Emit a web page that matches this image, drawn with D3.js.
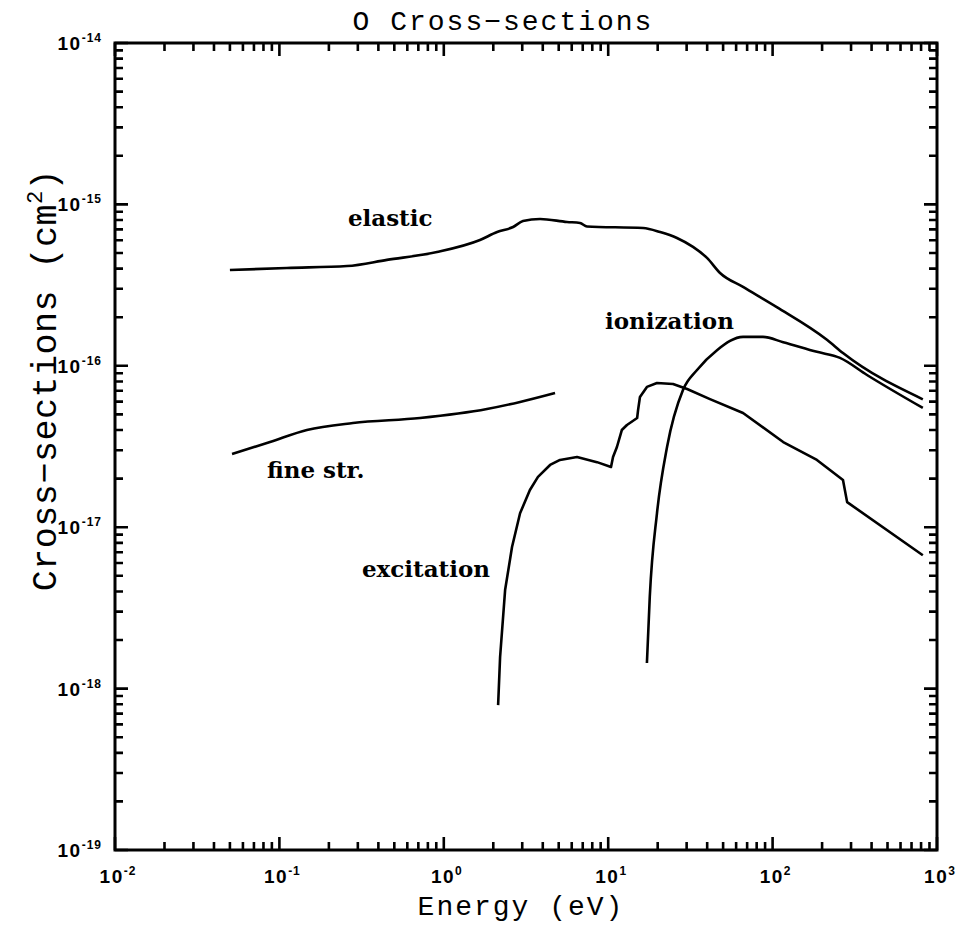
<!DOCTYPE html>
<html>
<head>
<meta charset="utf-8">
<script src="https://cdn.jsdelivr.net/npm/d3@7"></script>
<style>
  body { margin: 0; background: #fff; }
  .lbl { font-family: "DejaVu Serif", serif; font-weight: bold; font-size: 23px; }
  .mono { font-family: "Liberation Mono", monospace; font-size: 28px; letter-spacing: 2px; }
  .ymono { font-family: "Liberation Mono", monospace; font-size: 35px; letter-spacing: 0.5px; }
  .tick-lbl { font-family: "Liberation Sans", sans-serif; font-weight: bold; font-size: 19px; letter-spacing: 1.5px; }
</style>
</head>
<body>
<div id="chart"></div>
<script>
// values: energy (eV) and cross-section (cm^2)
const elasticE = [0.050, 0.111, 0.258, 0.451, 0.909, 1.66, 2.11, 2.64, 3.03, 3.85, 5.62, 6.74, 7.43, 16.3, 20.7, 26.2, 32.8, 39.9, 47.9, 66.1, 106, 214, 268, 820];
const elasticS = [3.92e-16, 4.04e-16, 4.15e-16, 4.53e-16, 5.07e-16, 6.02e-16, 6.74e-16, 7.24e-16, 7.88e-16, 8.12e-16, 7.78e-16, 7.67e-16, 7.30e-16, 7.14e-16, 6.74e-16, 6.19e-16, 5.45e-16, 4.66e-16, 3.76e-16, 3.08e-16, 2.31e-16, 1.45e-16, 1.20e-16, 6.2e-17];

const fineE = [0.0515, 0.0877, 0.147, 0.280, 0.717, 1.83, 2.91, 4.75];
const fineS = [2.84e-17, 3.37e-17, 4.00e-17, 4.42e-17, 4.75e-17, 5.40e-17, 5.97e-17, 6.78e-17];

const excE = [2.14, 2.20, 2.36, 2.60, 2.91, 3.34, 3.74, 4.43, 5.09, 6.46, 8.55, 10.4, 10.7, 11.3, 12.1, 13.0, 15.0, 15.2, 15.6, 17.2, 19.8, 24.8, 30.2, 41.6, 66.1, 116, 186, 268, 284, 820];
const excS = [7.9e-19, 1.57e-18, 4.08e-18, 7.54e-18, 1.22e-17, 1.70e-17, 2.05e-17, 2.43e-17, 2.61e-17, 2.72e-17, 2.53e-17, 2.36e-17, 2.72e-17, 3.14e-17, 4.00e-17, 4.30e-17, 4.75e-17, 5.33e-17, 6.41e-17, 7.40e-17, 7.82e-17, 7.71e-17, 7.18e-17, 6.22e-17, 5.10e-17, 3.37e-17, 2.61e-17, 1.96e-17, 1.43e-17, 6.7e-18];

const ionE = [17.2, 17.9, 19.8, 22.8, 28.5, 34.7, 45.9, 66.1, 87.4, 116, 186, 257, 375, 820];
const ionS = [1.44e-18, 3.70e-18, 1.22e-17, 3.14e-17, 7.08e-17, 9.42e-17, 1.25e-16, 1.51e-16, 1.51e-16, 1.40e-16, 1.22e-16, 1.12e-16, 8.77e-17, 5.48e-17];

// curve labels: text, anchor energy, anchor cross-section
const labelText = ["elastic", "ionization", "fine str.", "excitation"];
const labelE = [0.261, 9.56, 0.084, 0.318];
const labelS = [7.35e-16, 1.69e-16, 2.02e-17, 4.91e-18];

const xTickExp = [-2, -1, 0, 1, 2, 3];
const yTickExp = [-14, -15, -16, -17, -18, -19];

// set the dimensions and margins of the graph
const margin = {top: 43, right: 19, bottom: 76, left: 115},
  width = 956 - margin.left - margin.right,
  height = 926 - margin.top - margin.bottom;

const svg = d3.select("#chart")
  .append("svg")
  .attr("width", 956)
  .attr("height", 926);

const g = svg.append("g")
  .attr("transform", `translate(${margin.left},${margin.top})`);

const x = d3.scaleLog().domain([1e-2, 1e3]).range([0, width]);
const y = d3.scaleLog().domain([1e-19, 1e-14]).range([height, 0]);

// major ticks at decades, minor ones at 2..9
const ticksFor = (exps) => {
  const out = exps.map(e => ({v: Math.pow(10, e), len: 13}));
  const lo = d3.min(exps), hi = d3.max(exps);
  for (let e = lo; e < hi; e++)
    for (let k = 2; k <= 9; k++) out.push({v: k * Math.pow(10, e), len: 8});
  return out;
};
const xTicks = ticksFor(xTickExp);
const yTicks = ticksFor(yTickExp);

// inward ticks on all four sides
const seg = (x0, y0, x1, y1) => `M${x0},${y0}L${x1},${y1}`;
const tickPath =
  xTicks.map(d => seg(x(d.v), height, x(d.v), height - d.len) + seg(x(d.v), 0, x(d.v), d.len)).join("") +
  yTicks.map(d => seg(0, y(d.v), d.len, y(d.v)) + seg(width, y(d.v), width - d.len, y(d.v))).join("");

g.append("rect")
  .attr("width", width).attr("height", height)
  .attr("fill", "none").attr("stroke", "#000").attr("stroke-width", 3);

g.append("path")
  .attr("class", "ticks")
  .attr("d", tickPath)
  .attr("fill", "none")
  .attr("stroke", "#000")
  .attr("stroke-width", 2.6);

// tick labels 10^n
function powLabel(sel) {
  sel.each(function (d) {
    const t = d3.select(this);
    t.append("tspan").text("10");
    t.append("tspan").attr("dy", -8).attr("font-size", 12).attr("letter-spacing", 1).text(d);
  });
}
g.selectAll(".xlab").data(xTickExp).join("text")
  .attr("class", "tick-lbl")
  .attr("x", d => x(Math.pow(10, d)) + 3)
  .attr("y", height + 33)
  .attr("text-anchor", "middle")
  .call(powLabel);

g.selectAll(".ylab").data(yTickExp).join("text")
  .attr("class", "tick-lbl")
  .attr("x", -13)
  .attr("y", d => y(Math.pow(10, d)) + 7)
  .attr("text-anchor", "end")
  .call(powLabel);

// curves
const line = d3.line().x(d => x(d[0])).y(d => y(d[1]));
const series = [
  [elasticE, elasticS, d3.curveMonotoneX],
  [fineE, fineS, d3.curveMonotoneX],
  [excE, excS, d3.curveLinear],
  [ionE, ionS, d3.curveMonotoneX]
];
series.forEach(([es, ss, c]) => {
  g.append("path")
    .datum(es.map((e, i) => [e, ss[i]]))
    .attr("fill", "none")
    .attr("stroke", "#000")
    .attr("stroke-width", 2.6)
    .attr("stroke-linejoin", "round")
    .attr("d", line.curve(c));
});

g.selectAll(".curve-lbl").data(labelText).join("text")
  .attr("class", "lbl")
  .attr("x", (d, i) => x(labelE[i]))
  .attr("y", (d, i) => y(labelS[i]))
  .text(d => d);

// title and axis titles
svg.append("text")
  .attr("class", "mono")
  .attr("x", 503).attr("y", 30)
  .attr("text-anchor", "middle")
  .text("O Cross\u2212sections");

svg.append("text")
  .attr("class", "mono")
  .attr("x", 521).attr("y", 915)
  .attr("text-anchor", "middle")
  .text("Energy (eV)");

const yt = svg.append("text")
  .attr("class", "ymono")
  .attr("transform", "translate(56,380) rotate(-90)")
  .attr("text-anchor", "middle");
yt.append("tspan").text("Cross\u2212sections (cm");
yt.append("tspan").attr("dy", -14).attr("font-size", 22).text("2");
yt.append("tspan").attr("dy", 14).text(")");
</script>
</body>
</html>
